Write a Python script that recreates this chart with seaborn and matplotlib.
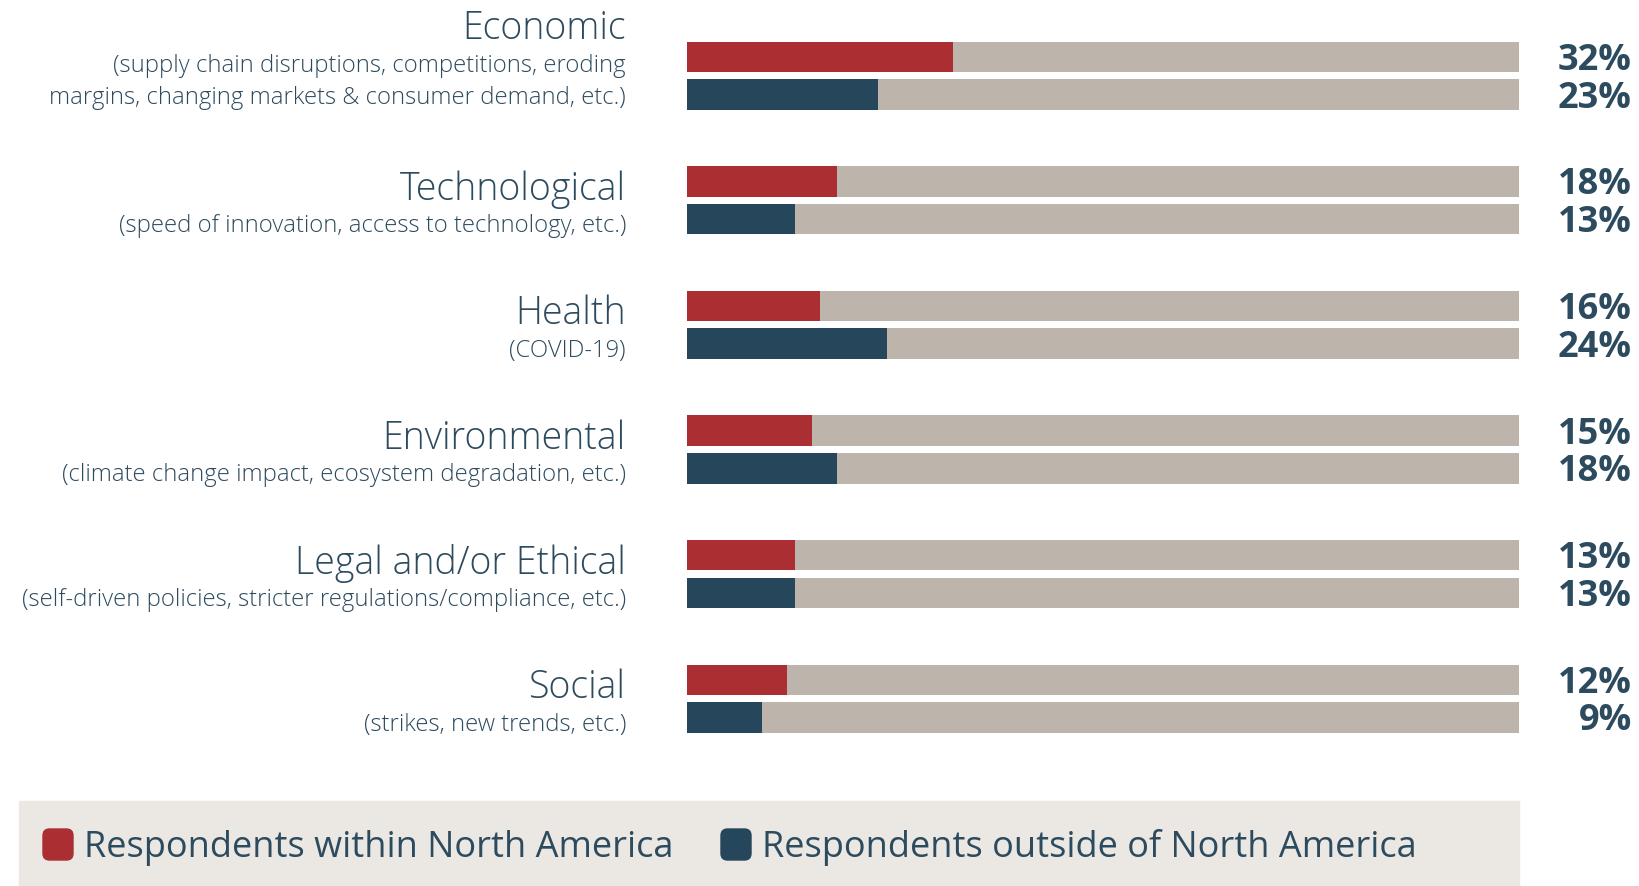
import matplotlib
matplotlib.use("Agg")
import matplotlib.pyplot as plt
from matplotlib.patches import Rectangle, FancyBboxPatch
from matplotlib.transforms import blended_transform_factory
import pandas as pd
import seaborn as sns

# Risk categories and the share of respondents naming each one
categories = ["Economic", "Technological", "Health", "Environmental",
              "Legal and/or Ethical", "Social"]
subtitles = [
    ["(supply chain disruptions, competitions, eroding",
     "margins, changing markets & consumer demand, etc.)"],
    ["(speed of innovation, access to technology, etc.)"],
    ["(COVID-19)"],
    ["(climate change impact, ecosystem degradation, etc.)"],
    ["(self-driven policies, stricter regulations/compliance, etc.)"],
    ["(strikes, new trends, etc.)"],
]
groups = ["Respondents within North America", "Respondents outside of North America"]
within_na = [32, 18, 16, 15, 13, 12]
outside_na = [23, 13, 24, 18, 13, 9]
full_scale = 100

RED = "#aa2e32"
NAVY = "#26465b"
TRACK = "#bdb5ab"
TEXT = "#2d4b5e"
LEGEND_BG = "#ebe8e4"

sns.set_theme(style="white")
plt.rcParams["font.family"] = ["Open Sans", "DejaVu Sans"]

df = pd.DataFrame({
    "category": categories * 2,
    "group": [groups[0]] * len(categories) + [groups[1]] * len(categories),
    "value": within_na + outside_na,
})
track = df.assign(value=full_scale)

fig = plt.figure(figsize=(16.4, 8.87), dpi=100)
ax = fig.add_axes([0.4189, 0.1410, 0.5073, 0.8427])

bar_kw = dict(y="category", x="value", hue="group", hue_order=groups,
              order=categories, orient="h", width=0.605, gap=0.19,
              saturation=1, linewidth=0, legend=False, errorbar=None, ax=ax)
sns.barplot(data=track, palette=[TRACK, TRACK], **bar_kw)
sns.barplot(data=df, palette=[RED, NAVY], **bar_kw)

ax.set_xlim(0, full_scale)
ax.set_ylim(len(categories) - 0.5, -0.5)
ax.set_axis_off()

# Percentage labels at the right edge, aligned to each value bar
label_tf = blended_transform_factory(fig.transFigure, ax.transData)
for container, vals in zip(ax.containers[-2:], [within_na, outside_na]):
    for bar, v in zip(container, vals):
        yc = bar.get_y() + bar.get_height() / 2
        ax.annotate(f"{v}%", xy=(0.995, yc), xycoords=label_tf,
                    xytext=(0, -3), textcoords="offset pixels",
                    ha="right", va="center", fontsize=26, fontweight="bold",
                    color=TEXT)

# Category titles with their descriptions on the left
x_text = 626 / 1640
for i, (title, subs) in enumerate(zip(categories, subtitles)):
    n = len(subs)
    title_off = -12 - 36 * (n - 1)
    ax.annotate(title, xy=(x_text, i), xycoords=label_tf,
                xytext=(0, -title_off), textcoords="offset pixels",
                ha="right", va="center", fontsize=27, fontweight="light",
                color=TEXT)
    for k, line in enumerate(subs):
        off = title_off + 37 + 32 * k
        ax.annotate(line, xy=(x_text, i), xycoords=label_tf,
                    xytext=(0, -off), textcoords="offset pixels",
                    ha="right", va="center", fontsize=17.2, fontweight="light",
                    color=TEXT)

# Legend band along the bottom
W, H = 1640, 887
fig.patches.append(Rectangle((19 / W, 0), 1500 / W, 85 / H,
                             transform=fig.transFigure, color=LEGEND_BG, zorder=0))
for x0, color, label in [(43, RED, groups[0]), (721, NAVY, groups[1])]:
    fig.patches.append(FancyBboxPatch((x0 / W, 26 / H), 30 / W, 31 / H,
                                      boxstyle="round,pad=0,rounding_size=0.004",
                                      transform=fig.transFigure, color=color,
                                      mutation_aspect=W / H, zorder=1))
    fig.text((x0 + 41) / W, 39 / H, label, ha="left", va="center",
             fontsize=26, color=TEXT)

fig.savefig("out.png", dpi=100, facecolor="white")
